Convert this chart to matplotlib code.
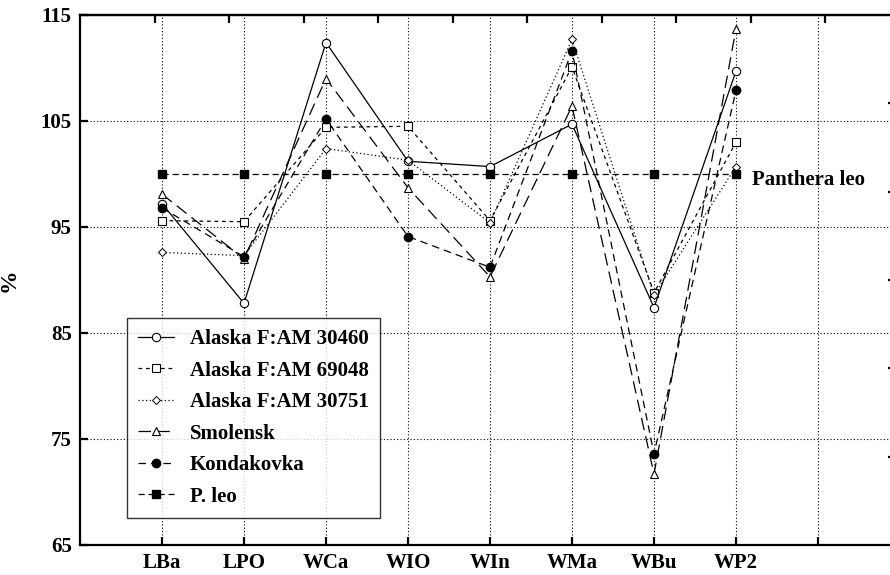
import matplotlib
matplotlib.use("Agg")
import matplotlib.pyplot as plt
import numpy as np

categories = ["LBa", "LPO", "WCa", "WIO", "WIn", "WMa", "WBu", "WP2"]
alaska_30460 = [97.2, 87.8, 112.4, 101.2, 100.7, 104.7, 87.4, 109.7]
alaska_69048 = [95.6, 95.5, 104.4, 104.5, 95.6, 110.1, 88.8, 103.0]
alaska_30751 = [92.6, 92.3, 102.4, 101.3, 95.4, 112.7, 88.6, 100.7]
smolensk = [98.1, 92.0, 109.0, 98.7, 90.3, 106.4, 71.7, 113.7]
kondakovka = [96.8, 92.2, 105.2, 94.1, 91.2, 111.6, 73.6, 107.9]
p_leo = [100, 100, 100, 100, 100, 100, 100, 100]
yticks = [65, 75, 85, 95, 105, 115]

plt.rcParams['font.family'] = ['Liberation Serif', 'DejaVu Serif']
plt.rcParams['font.weight'] = 'bold'

fig = plt.figure(figsize=(8.9, 5.75), dpi=100)
ax = fig.add_axes([80/890, 30/575, 820/890, 530/575])
x = np.arange(1, len(categories) + 1)

lw = 0.9
ax.plot(x, alaska_30460, color='black', lw=lw, ls='-', marker='o', ms=6,
        mfc='white', mec='black', mew=0.8, label='Alaska F:AM 30460')
ax.plot(x, alaska_69048, color='black', lw=lw, ls=(0, (3, 3)), marker='s', ms=6,
        mfc='white', mec='black', mew=0.8, label='Alaska F:AM 69048')
ax.plot(x, alaska_30751, color='black', lw=lw, ls=(0, (1, 2)), marker='D', ms=4,
        mfc='white', mec='black', mew=0.7, label='Alaska F:AM 30751')
ax.plot(x, smolensk, color='black', lw=lw, ls=(0, (10, 5)), marker='^', ms=6,
        mfc='white', mec='black', mew=0.8, label='Smolensk')
ax.plot(x, kondakovka, color='black', lw=lw, ls=(0, (6, 4)), marker='o', ms=6,
        mfc='black', mec='black', label='Kondakovka')
ax.plot(x, p_leo, color='black', lw=lw, ls=(0, (5, 3)), marker='s', ms=6,
        mfc='black', mec='black', label='P. leo')

ax.text(8.2, 99.4, 'Panthera leo', fontsize=15, fontweight='bold', va='center', ha='left')

ax.set_xlim(0, 10)
ax.set_ylim(65, 115)
ax.set_xticks(np.arange(1, 10))
ax.set_xticklabels(categories + [''])
ax.set_yticks(yticks)
ax.tick_params(axis='both', direction='in', length=6, width=1.6, labelsize=15)
ax.tick_params(axis='x', pad=6)
ax.tick_params(axis='y', pad=6)
for lab in ax.get_xticklabels() + ax.get_yticklabels():
    lab.set_fontweight('bold')

for v in range(1, 10):
    ax.axvline(v, color='black', lw=0.8, ls=(0, (1, 2)), zorder=0)
for v in [75, 85, 95, 105]:
    ax.axhline(v, color='black', lw=0.8, ls=(0, (1, 2)), zorder=0)

for s in ax.spines.values():
    s.set_linewidth(1.6)
ax.spines['right'].set_visible(False)

top = ax.secondary_xaxis('top')
top.set_xticks(np.arange(1, 11) * 10 / 11)
top.tick_params(direction='in', length=6, width=1.6, labeltop=False)
top.spines['top'].set_linewidth(1.6)

right = ax.secondary_yaxis('right')
right.set_yticks(65 + np.arange(1, 6) * 50 / 6)
right.tick_params(direction='in', length=8.5, width=1.6, labelright=False)
right.spines['right'].set_linewidth(1.6)

ax.set_ylabel('%', fontsize=17, fontweight='bold')
ax.yaxis.set_label_coords(-(80 - 20) / 820, 0.5)

leg = ax.legend(loc='lower left', bbox_to_anchor=(47/820, 27/530), fontsize=15,
                frameon=True, fancybox=False, edgecolor='black', handlelength=1.7,
                borderpad=0.55, labelspacing=0.55, handletextpad=0.75,
                borderaxespad=0)
leg.get_frame().set_linewidth(1.0)
for t in leg.get_texts():
    t.set_fontweight('bold')

fig.savefig('out.png', dpi=100)
